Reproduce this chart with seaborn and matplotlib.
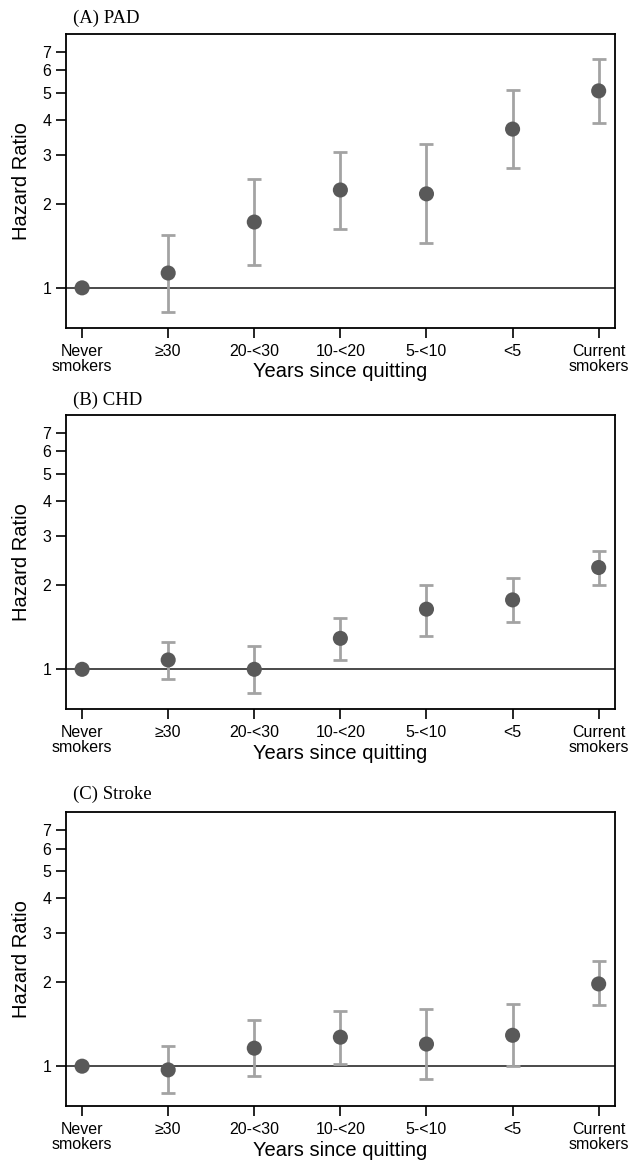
import numpy as np
import pandas as pd
import seaborn as sns
import matplotlib.pyplot as plt

# categories on the x axis
groups = ['Never\nsmokers', '≥30', '20-<30', '10-<20', '5-<10', '<5', 'Current\nsmokers']

# hazard ratios and 95% CI (Never smokers = reference, no CI)
pad_hr = [1.00, 1.13, 1.72, 2.24, 2.17, 3.70, 5.07]
pad_lo = [np.nan, 0.82, 1.21, 1.63, 1.45, 2.69, 3.90]
pad_hi = [np.nan, 1.55, 2.46, 3.06, 3.26, 5.09, 6.61]

chd_hr = [1.00, 1.08, 1.00, 1.29, 1.64, 1.77, 2.31]
chd_lo = [np.nan, 0.92, 0.82, 1.08, 1.32, 1.47, 2.00]
chd_hi = [np.nan, 1.25, 1.21, 1.53, 2.00, 2.12, 2.65]

stroke_hr = [1.00, 0.97, 1.16, 1.27, 1.20, 1.29, 1.97]
stroke_lo = [np.nan, 0.80, 0.92, 1.02, 0.90, 1.00, 1.65]
stroke_hi = [np.nan, 1.18, 1.46, 1.57, 1.60, 1.67, 2.38]

titles = ['(A) PAD', '(B) CHD', '(C) Stroke']
yticks = [1, 2, 3, 4, 5, 6, 7]

sns.set_theme(style='ticks')
plt.rcParams['font.family'] = ['Liberation Sans', 'DejaVu Sans']

fig = plt.figure(figsize=(6.29, 11.65), dpi=100)

# axes boxes in figure fractions (left, bottom, width, height)
boxes = [[0.1045, 0.7187, 0.8733, 0.2521],
         [0.1045, 0.3912, 0.8733, 0.2526],
         [0.1045, 0.0506, 0.8733, 0.2521]]
title_y = [1 - 18 / 1165, 1 - 400.7 / 1165, 1 - 794 / 1165]

panels = [(pad_hr, pad_lo, pad_hi), (chd_hr, chd_lo, chd_hi), (stroke_hr, stroke_lo, stroke_hi)]

for i, (hr, lo, hi) in enumerate(panels):
    ax = fig.add_axes(boxes[i])
    df = pd.DataFrame({'group': groups, 'hr': hr, 'lo': lo, 'hi': hi})
    df['x'] = np.arange(len(df))

    ax.axhline(1, color='#4a4a4a', lw=1.4, zorder=1)
    ci = df.dropna()
    ax.errorbar(ci['x'], ci['hr'],
                yerr=[ci['hr'] - ci['lo'], ci['hi'] - ci['hr']],
                fmt='none', ecolor='#a3a3a3', elinewidth=2.0,
                capsize=4.8, capthick=2.0, zorder=2)
    sns.scatterplot(data=df, x='x', y='hr', ax=ax, color='#595959',
                    s=118, edgecolor='none', zorder=3, legend=False)

    ax.set_yscale('log')
    ax.set_ylim(0.72, 8.1)
    ax.set_yticks(yticks)
    ax.set_yticklabels([str(t) for t in yticks])
    ax.yaxis.set_minor_locator(plt.NullLocator())
    ax.set_xlim(-0.19, 6.19)
    ax.set_xticks(df['x'])
    ax.set_xticklabels(groups, linespacing=1.0)

    ax.tick_params(axis='both', direction='out', length=7.5, width=1.2,
                   color='black', labelsize=11.5, labelcolor='black')
    ax.tick_params(axis='y', pad=3)
    ax.tick_params(axis='x', pad=4)
    for sp in ax.spines.values():
        sp.set_visible(True)
        sp.set_color('black')
        sp.set_linewidth(1.3)

    ax.set_xlabel('Years since quitting', fontsize=14.5, va='center', color='black')
    ax.xaxis.set_label_coords(0.5, -0.1498)
    ax.set_ylabel('Hazard Ratio', fontsize=14.5, va='center', color='black')
    ax.yaxis.set_label_coords(-0.080, 0.5)

    fig.text(73 / 629, title_y[i], titles[i], family='Liberation Serif',
             fontsize=13.5, va='center', ha='left', color='black')

fig.savefig('out.png', dpi=100)
